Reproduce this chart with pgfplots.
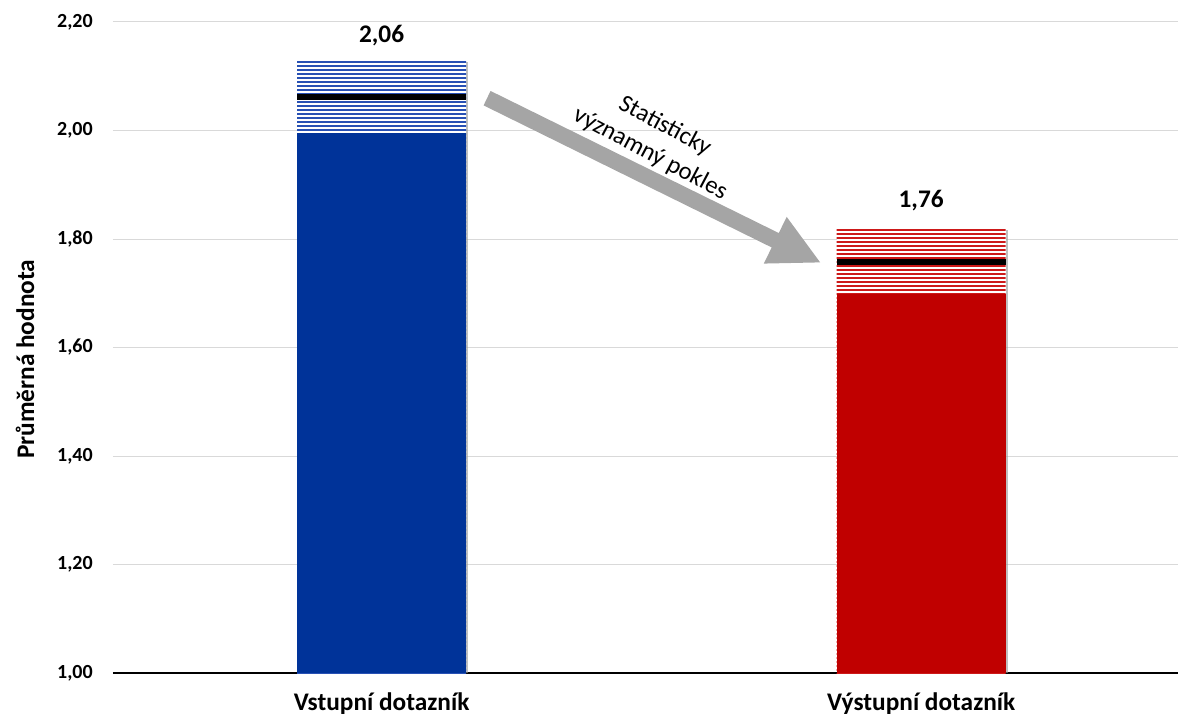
\documentclass[border=0pt]{standalone}
\usepackage{pgfplots}
\pgfplotsset{compat=1.18}
\usepackage{fontspec}
\setmainfont{Carlito}
\usetikzlibrary{patterns.meta}

\definecolor{cblue}{RGB}{0,51,153}
\definecolor{cred}{RGB}{192,0,0}
\definecolor{hblue}{RGB}{40,80,180}
\definecolor{hred}{RGB}{205,25,25}
\definecolor{cgrid}{RGB}{217,217,217}
\definecolor{carrow}{RGB}{165,165,165}
\definecolor{cshadow}{RGB}{150,150,150}

\begin{document}
\begin{tikzpicture}
\begin{axis}[
  scale only axis, width=798.75pt, height=488.25pt,
  xmin=-0.4977, xmax=1.476, ymin=1, ymax=2.2,
  separate axis lines,
  axis x line*=bottom,
  axis y line*=left,
  x axis line style={black, line width=1pt, -},
  y axis line style={draw=none},
  ytick={1,1.2,1.4,1.6,1.8,2,2.2},
  ymajorgrids, grid style={cgrid, line width=0.75pt},
  major tick length=0pt,
  xtick={0,1}, xticklabels={Vstupní dotazník, Výstupní dotazník},
  yticklabel style={/pgf/number format/fixed, /pgf/number format/fixed zerofill, /pgf/number format/precision=2, /pgf/number format/use comma, /pgf/number format/assume math mode=true,
    font=\fontsize{15}{18}\selectfont\bfseries, anchor=east, xshift=-15pt, inner sep=0pt},
  xticklabel style={font=\fontsize{19}{23}\selectfont\bfseries, anchor=base, yshift=-27.75pt, inner sep=0pt},
  ylabel={Průměrná hodnota},
  ylabel style={font=\fontsize{19}{23}\selectfont\bfseries, at={(axis description cs:-0.0826,0.482)}, anchor=center},
]
% shadows
\addplot[ybar, bar width=0.313, bar shift=0.0045, draw=none, fill=cshadow, fill opacity=0.6] coordinates {(0,2.126)};
\addplot[ybar, bar width=0.313, bar shift=0.0045, draw=none, fill=cshadow, fill opacity=0.6] coordinates {(1,1.816)};
% confidence intervals (hatched)
\addplot[ybar, bar width=0.313, bar shift=0pt, draw=none, fill=white,
  postaction={pattern color=hblue, pattern={Lines[angle=0,distance=3pt,line width=1pt]}}]
  coordinates {(0,2.128)};
\addplot[ybar, bar width=0.313, bar shift=0pt, draw=none, fill=white,
  postaction={pattern color=hred, pattern={Lines[angle=0,distance=3pt,line width=1pt]}}]
  coordinates {(1,1.818)};
% solid parts
\addplot[ybar, bar width=0.313, bar shift=0pt, draw=none, fill=cblue] coordinates {(0,1.995)};
\addplot[ybar, bar width=0.313, bar shift=0pt, draw=none, fill=cred] coordinates {(1,1.698)};
% means
\addplot[black, line width=4.5pt, mark=none] coordinates {(-0.1565,2.061) (0.1565,2.061)};
\addplot[black, line width=4.5pt, mark=none] coordinates {(0.8435,1.758) (1.1565,1.758)};
% value labels
\node[font=\fontsize{19}{23}\selectfont\bfseries, anchor=base, yshift=41pt, inner sep=0pt] at (axis cs:0,2.061) {2,06};
\node[font=\fontsize{19}{23}\selectfont\bfseries, anchor=base, yshift=41pt, inner sep=0pt] at (axis cs:1,1.758) {1,76};
% arrow
\fill[carrow] (axis cs:0.1891,2.0463) -- (axis cs:0.7231,1.7844) -- (axis cs:0.7083,1.7547) -- (axis cs:0.8128,1.7569) -- (axis cs:0.7509,1.8407) -- (axis cs:0.7361,1.8110) -- (axis cs:0.2020,2.0729) -- cycle;
\node[rotate=-28, align=center, font=\fontsize{18.5}{23.5}\selectfont] at (axis cs:0.5116,1.982) {Statisticky\\významný pokles};
\end{axis}
\pgfresetboundingbox
\path ([shift={(-84.75pt,-36.75pt)}]current axis.south west) rectangle ([shift={(0pt,16.5pt)}]current axis.north east);
\end{tikzpicture}
\end{document}
